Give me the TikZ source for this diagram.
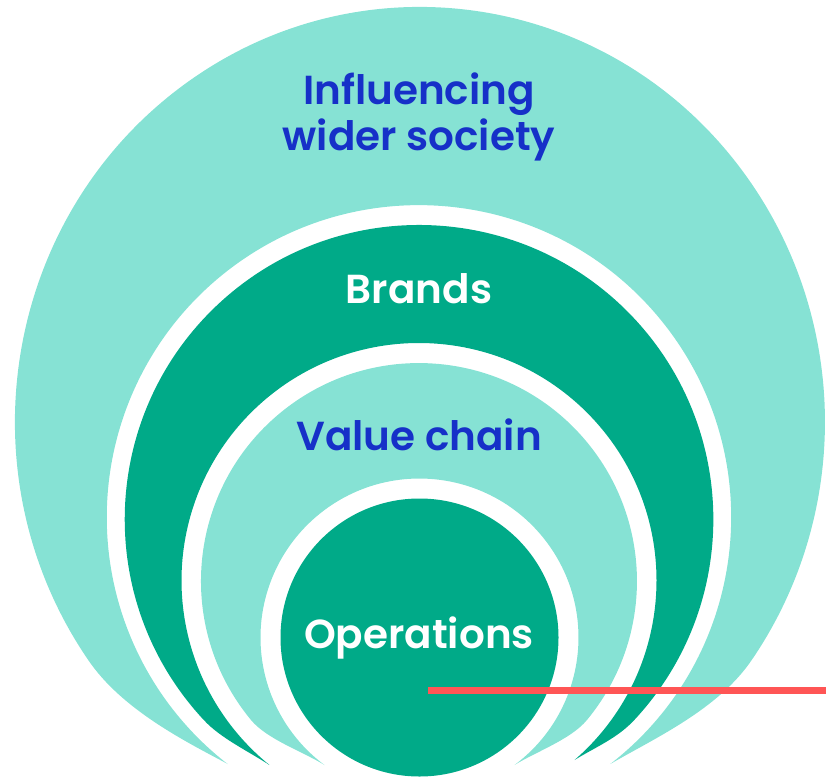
\documentclass[tikz,border=0pt]{standalone}
\usepackage{fontspec}
\newfontfamily\labelfont{Poppins SemiBold}
\definecolor{ringlight}{RGB}{134,226,212}
\definecolor{ringdark}{RGB}{0,170,136}
\definecolor{labelblue}{RGB}{22,48,200}
\definecolor{markerred}{RGB}{255,85,85}
\begin{document}
\begin{tikzpicture}[x=1pt,y=-1pt,
  ringlabel/.style={font=\labelfont\fontsize{40.5}{46}\selectfont, anchor=base, inner sep=0pt},
  bluelabel/.style={ringlabel, text=labelblue},
  whitelabel/.style={ringlabel, text=white},
  marker/.style={draw=markerred, line width=7pt}]
\useasboundingbox (0,0) rectangle (826,781);

% outer band: influencing wider society
\fill[ringlight]
  (227.8,764) .. controls (184.5,741) and (122,709.6) .. (88.2,660)
  arc[start angle=145, end angle=395, x radius=405, y radius=415]
  .. controls (718,709.6) and (655,738) .. (610.3,764)
  arc[start angle=52.2, end angle=-232.2, radius=312.2]
  -- cycle;

% second band: brands
\fill[ringdark]
  (269.4,765) .. controls (248,751) and (220.7,738.3) .. (203.8,720)
  arc[start angle=137, end angle=403, radius=294.3]
  .. controls (617.3,738.3) and (596,746.8) .. (574.5,760)
  arc[start angle=49.1, end angle=-230.97, radius=237.5]
  -- cycle;

% third band: value chain
\fill[ringlight]
  (324.5,765) .. controls (303.3,751.8) and (266.9,739.3) .. (251,720)
  arc[start angle=140.4, end angle=399.6, radius=218]
  .. controls (571.1,739.3) and (535.8,751.8) .. (514.5,765)
  arc[start angle=53.3, end angle=-233.3, radius=159]
  -- cycle;

% core: operations
\node[circle, fill=ringdark, minimum size=278pt, inner sep=0pt] (core) at (419.5,637.5) {};

% labels
\node[bluelabel] (society1) at (419,104) {Influencing};
\node[bluelabel] (society2) at (419,150) {wider society};
\node[whitelabel] (brands) at (419,303) {Brands};
\node[bluelabel] (valuechain) at (419,450) {Value chain};
\node[whitelabel] (operations) at (419,648) {Operations};

% marker line
\coordinate (markstart) at (428,690.5);
\coordinate (markend) at (826,690.5);
\draw[marker] (markstart) -- (markend);
\end{tikzpicture}
\end{document}
